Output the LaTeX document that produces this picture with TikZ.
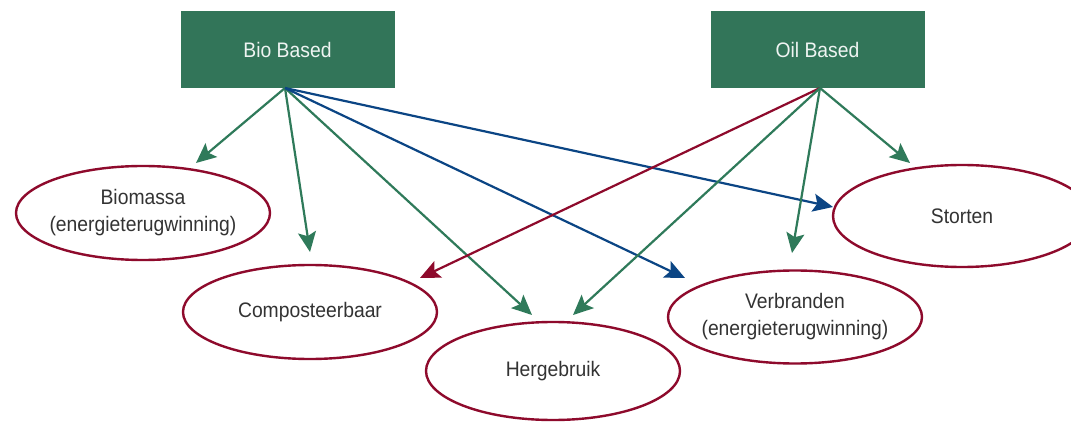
\documentclass[tikz,border=0pt]{standalone}
\usepackage{fontspec}
\setmainfont{Liberation Sans}[FakeStretch=0.92]
\usetikzlibrary{shapes.geometric,arrows.meta}
\definecolor{boxgreen}{HTML}{327559}
\definecolor{arrgreen}{HTML}{2F7A5A}
\definecolor{arrblue}{HTML}{0B4584}
\definecolor{arrred}{HTML}{8E0A2C}
\definecolor{ellred}{HTML}{8E0A2C}
\definecolor{txtgray}{HTML}{333333}
\begin{document}
\begin{tikzpicture}[x=1pt,y=-1pt,
  box/.style={draw=none,fill=boxgreen,minimum width=214pt,minimum height=77pt,
    inner sep=0pt,text=white!92!boxgreen,font=\fontsize{21}{27}\selectfont},
  oval/.style={ellipse,draw=ellred,line width=2.4pt,fill=white,inner sep=0pt},
  txt/.style={text=txtgray,align=center,inner sep=0pt,font=\fontsize{21}{27}\selectfont},
  arr/.style={line width=2.2pt,-{Stealth[length=20pt,width=18pt,inset=4pt]}},
  ga/.style={arr,draw=arrgreen},
  ba/.style={arr,draw=arrblue},
  ra/.style={arr,draw=arrred}]
\useasboundingbox (0,0) rectangle (1071,422);
\fill[white] (0,0) rectangle (1071,422);

\node[box] (bio) at (287.5,49.5) {Bio Based};
\node[box] (oil) at (817.5,49.5) {Oil Based};

\node[oval,minimum width=254pt,minimum height=94pt] (biomassa) at (143,213) {};
\node[txt] (biomassaT) at (biomassa) {Biomassa\\(energieterugwinning)};
\node[oval,minimum width=254pt,minimum height=94pt] (compost) at (310,312) {};
\node[txt] (compostT) at (compost) {Composteerbaar};
\node[oval,minimum width=254pt,minimum height=98pt] (herg) at (553,371) {};
\node[txt] (hergT) at (herg) {Hergebruik};
\node[oval,minimum width=254pt,minimum height=93pt] (verbr) at (795,317) {};
\node[txt] (verbrT) at (verbr) {Verbranden\\(energieterugwinning)};
\node[oval,minimum width=258pt,minimum height=102pt] (storten) at (962,216) {};
\node[txt] (stortenT) at (storten) {Storten};

\coordinate (bo) at (285,88);
\coordinate (oo) at (820,88);

\coordinate (t1) at (196,163);
\coordinate (t2) at (310,252);
\coordinate (t3) at (532,315);
\coordinate (t4) at (685,278);
\coordinate (t5) at (833,207);
\coordinate (t6) at (420,278);
\coordinate (t7) at (573,315);
\coordinate (t8) at (792,253);
\coordinate (t9) at (910,163);

\draw[ga] (bo) -- (t1);
\draw[ga] (bo) -- (t2);
\draw[ga] (bo) -- (t3);
\draw[ba] (bo) -- (t4);
\draw[ba] (bo) -- (t5);
\draw[ra] (oo) -- (t6);
\draw[ga] (oo) -- (t7);
\draw[ga] (oo) -- (t8);
\draw[ga] (oo) -- (t9);
\end{tikzpicture}
\end{document}
